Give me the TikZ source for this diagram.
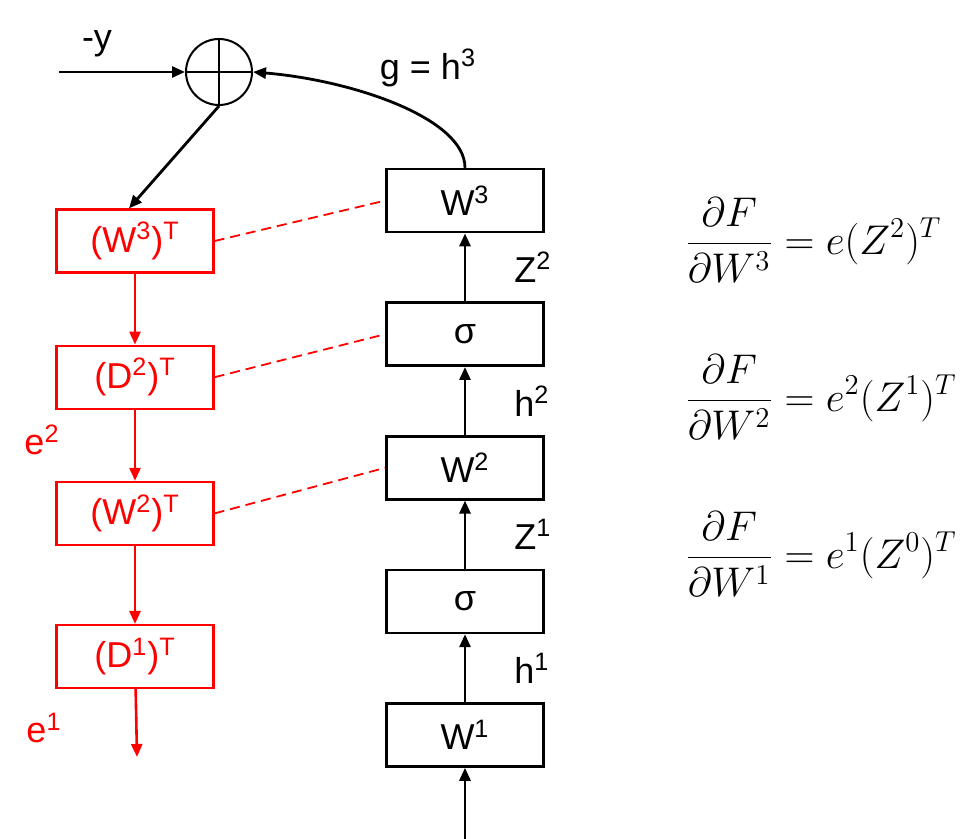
\documentclass[tikz,border=0pt]{standalone}
\usepackage{fontspec}
\usepackage{xcolor}
\usepackage{tikz}
\usetikzlibrary{arrows.meta,positioning}
\newfontfamily\lblfont{Liberation Sans}
\definecolor{errred}{HTML}{FF0000}

\begin{document}
\begin{tikzpicture}[
  x=0.5pt, y=-0.5pt,
  node distance=34pt,
  fwd/.style={draw=black, line width=1.3pt, minimum width=78.5pt, minimum height=31.5pt,
              inner sep=0pt, font=\lblfont\fontsize{18}{22}\selectfont},
  bwd/.style={draw=errred, text=errred, line width=1.1pt, minimum width=78.5pt,
              minimum height=31.5pt, inner sep=0pt, font=\lblfont\fontsize{18}{22}\selectfont},
  lbl/.style={inner sep=0pt, font=\lblfont\fontsize{18}{22}\selectfont},
  sidelbl/.style={lbl, right=24pt},
  arr/.style={draw=black, line width=1.4pt, -{Triangle[length=6.5pt, width=5.5pt]}},
  rarr/.style={draw=errred, line width=1.3pt, -{Triangle[length=6.5pt, width=5.5pt]}},
  link/.style={draw=errred, line width=0.9pt, dash pattern=on 5pt off 3pt},
  eqn/.style={anchor=west, inner sep=0pt, font=\fontsize{20}{24}\selectfont}
]
\useasboundingbox (0,0) rectangle (960,839);

% forward pass
\node[fwd] (W1) at (465,735) {W\textsuperscript{1}};
\node[fwd, above=of W1] (s1) {σ};
\node[fwd, above=of s1] (W2) {W\textsuperscript{2}};
\node[fwd, above=of W2] (s2) {σ};
\node[fwd, above=of s2] (W3) {W\textsuperscript{3}};
\coordinate (xin) at (465,839);

\node[circle, draw, line width=1pt, minimum size=33pt, inner sep=0pt] (sum) at (219,72) {};
\draw[line width=1pt] (sum.north) -- (sum.south) (sum.west) -- (sum.east);
\coordinate (yin) at (59,72);
\node[lbl] (ylab) at (97,44) {-y};
\node[lbl] (glab) at (428,68) {g = h\textsuperscript{3}};

% backward pass
\node[bwd] (Wt3) at (135,241) {(W\textsuperscript{3})\textsuperscript{T}};
\node[bwd, below=35.5pt of Wt3] (Dt2) {(D\textsuperscript{2})\textsuperscript{T}};
\node[bwd, below=35.5pt of Dt2] (Wt2) {(W\textsuperscript{2})\textsuperscript{T}};
\node[bwd, below=39pt of Wt2] (Dt1) {(D\textsuperscript{1})\textsuperscript{T}};
\coordinate (e1out) at (137,757);
\node[lbl, text=errred] (e2) at (42,440) {e\textsuperscript{2}};
\node[lbl, text=errred] (e1) at (44,728) {e\textsuperscript{1}};

\draw[arr] (xin) -- (W1);
\draw[arr] (W1) -- node[sidelbl] {h\textsuperscript{1}} (s1);
\draw[arr] (s1) -- node[sidelbl] {Z\textsuperscript{1}} (W2);
\draw[arr] (W2) -- node[sidelbl] {h\textsuperscript{2}} (s2);
\draw[arr] (s2) -- node[sidelbl] {Z\textsuperscript{2}} (W3);
\draw[arr] (W3.north) .. controls ([yshift=25pt]W3.north) and ([xshift=49pt,yshift=-4pt]sum.east) .. (sum.east);
\draw[arr] (yin) -- (sum);
\draw[arr] (sum.south) -- ([xshift=-3pt]Wt3.north);

\draw[rarr] (Wt3) -- (Dt2);
\draw[rarr] (Dt2) -- (Wt2);
\draw[rarr] (Wt2) -- (Dt1);
\draw[rarr] (Dt1) -- (e1out);

\draw[link] (Wt3.east) -- (W3.west);
\draw[link] (Dt2.east) -- (s2.west);
\draw[link] (Wt2.east) -- (W2.west);

% gradients
\node[eqn] (g3) at (685,240) {$\displaystyle\frac{\partial F}{\partial W^3}=e(Z^2)^T$};
\node[eqn] (g2) at (685,397) {$\displaystyle\frac{\partial F}{\partial W^2}=e^2(Z^1)^T$};
\node[eqn] (g1) at (685,554) {$\displaystyle\frac{\partial F}{\partial W^1}=e^1(Z^0)^T$};
\end{tikzpicture}
\end{document}
